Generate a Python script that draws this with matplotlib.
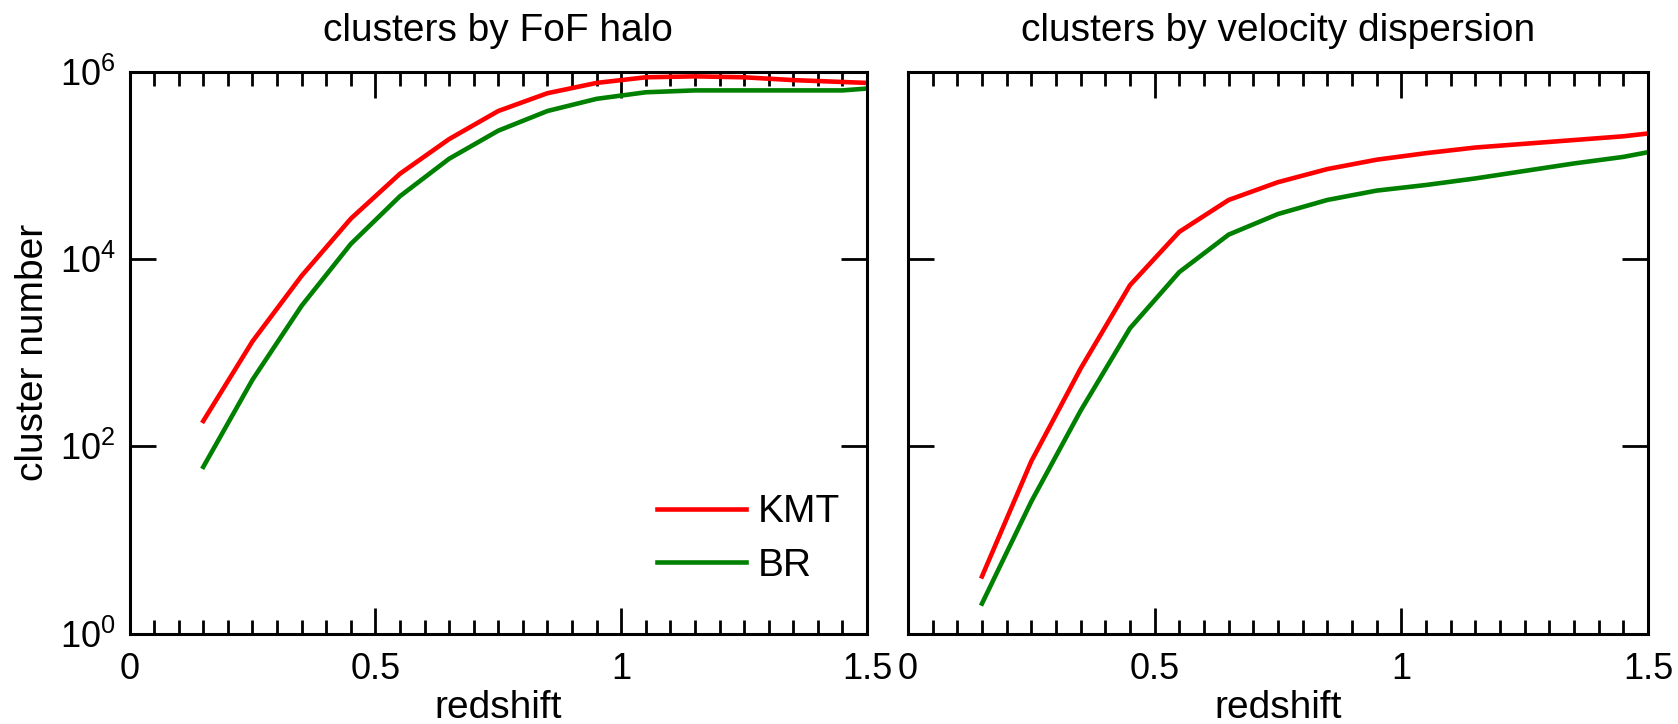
"""Cluster number vs redshift for two cluster definitions (KMT vs BR)."""

import matplotlib
matplotlib.use("Agg")
import matplotlib.pyplot as plt
from matplotlib.ticker import (FixedLocator, FuncFormatter, LogFormatterMathtext,
                               MultipleLocator, NullLocator)

plt.rcParams["font.family"] = ["Liberation Sans", "DejaVu Sans"]
plt.rcParams["mathtext.fontset"] = "custom"
plt.rcParams["mathtext.rm"] = "Liberation Sans"
plt.rcParams["mathtext.it"] = "Liberation Sans:italic"

# redshift bins (bin centres, last point at the axis edge)
redshift = [0.15, 0.25, 0.35, 0.45, 0.55, 0.65, 0.75, 0.85, 0.95,
            1.05, 1.15, 1.25, 1.35, 1.45, 1.5]

# log10 of cluster number
fof_kmt_log = [2.27, 3.12, 3.82, 4.43, 4.91, 5.28, 5.58, 5.77, 5.88,
               5.94, 5.95, 5.94, 5.91, 5.89, 5.88]
fof_br_log = [1.78, 2.71, 3.50, 4.16, 4.67, 5.07, 5.37, 5.58, 5.71,
              5.78, 5.80, 5.80, 5.80, 5.80, 5.82]
vel_kmt_log = [0.61, 1.84, 2.83, 3.72, 4.29, 4.63, 4.82, 4.96, 5.06,
               5.13, 5.19, 5.23, 5.27, 5.31, 5.34]
vel_br_log = [0.32, 1.41, 2.38, 3.26, 3.86, 4.26, 4.48, 4.63, 4.73,
              4.79, 4.86, 4.94, 5.02, 5.09, 5.14]

fof_kmt = [10 ** v for v in fof_kmt_log]
fof_br = [10 ** v for v in fof_br_log]
vel_kmt = [10 ** v for v in vel_kmt_log]
vel_br = [10 ** v for v in vel_br_log]

panel_titles = ["clusters by FoF halo", "clusters by velocity dispersion"]
series_labels = ["KMT", "BR"]
series_colors = ["#ff0000", "#008000"]

fs = 28
fs_tick = 26
lw = 3.3

fig = plt.figure(figsize=(16.78, 7.24), dpi=100)
ax_l = fig.add_axes([0.0772, 0.1249, 0.4395, 0.7761])
ax_r = fig.add_axes([0.5411, 0.1249, 0.4410, 0.7761])

panels = [(ax_l, fof_kmt, fof_br), (ax_r, vel_kmt, vel_br)]
for k, (ax, kmt, br) in enumerate(panels):
    ax.plot(redshift, kmt, color=series_colors[0], lw=lw, label=series_labels[0],
            solid_joinstyle="round")
    ax.plot(redshift, br, color=series_colors[1], lw=lw, label=series_labels[1],
            solid_joinstyle="round")
    ax.set_yscale("log")
    ax.set_xlim(0, 1.5)
    ax.set_ylim(1, 1e6)
    ax.xaxis.set_major_locator(MultipleLocator(0.5))
    ax.xaxis.set_minor_locator(MultipleLocator(0.05))
    ax.xaxis.set_major_formatter(FuncFormatter(lambda v, p: f"{v:g}"))
    ax.yaxis.set_major_locator(FixedLocator([1, 1e2, 1e4, 1e6]))
    ax.yaxis.set_minor_locator(NullLocator())
    ax.yaxis.set_major_formatter(LogFormatterMathtext())
    ax.tick_params(which="both", direction="in", top=True, right=True,
                   labelsize=fs_tick, width=2)
    ax.tick_params(which="major", length=19)
    ax.tick_params(which="minor", length=10)
    ax.tick_params(axis="x", pad=13.5)
    ax.tick_params(axis="y", pad=10)
    for sp in ax.spines.values():
        sp.set_linewidth(2.2)
    ax.set_title(panel_titles[k], fontsize=fs, pad=22)
    ax.set_xlabel("redshift", fontsize=fs, labelpad=2)

ax_l.set_ylabel("cluster number", fontsize=fs, labelpad=6)
ax_r.tick_params(axis="y", labelleft=False)

ax_l.legend(loc="lower right", bbox_to_anchor=(0.985, 0.061), frameon=False,
            fontsize=fs, handlelength=2.3, handletextpad=0.3,
            labelspacing=0.45, borderaxespad=0)

fig.savefig("out.png", dpi=100)
plt.close(fig)
